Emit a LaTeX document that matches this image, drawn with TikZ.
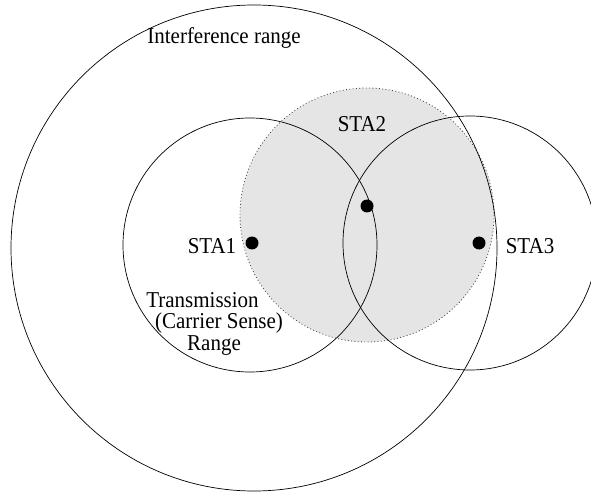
\documentclass[tikz,border=0pt]{standalone}
\usepackage{fontspec}
\setmainfont{Liberation Serif}
\begin{document}
\begin{tikzpicture}[x=1pt,y=-1pt,
  rangering/.style={draw=black,line width=0.7pt},
  sensearea/.style={fill=black!10,draw=black!75,line width=0.8pt,dash pattern=on 0.9pt off 2.4pt},
  station/.style={circle,fill=black,inner sep=0pt,minimum size=13pt},
  lbl/.style={font=\fontsize{21}{24}\selectfont,inner sep=0pt,anchor=base,yscale=1.08}]
  \useasboundingbox (0,0) rectangle (591,494);
  % carrier-sense area of STA2
  \path[sensearea] (367,215) circle[radius=127];
  % ranges
  \draw[rangering] (254,248) circle[radius=243];
  \draw[rangering] (250,245) circle[radius=127];
  \draw[rangering] (470,243) circle[radius=127];
  % stations
  \node[station] (s1) at (252,243) {};
  \node[station] (s2) at (367,206) {};
  \node[station] (s3) at (479,243) {};
  % labels
  \node[lbl] (l1) at (212,253) {STA1};
  \node[lbl] (l2) at (362,132) {STA2};
  \node[lbl] (l3) at (530,253) {STA3};
  \node[lbl] (li) at (224,44) {Interference range};
  \node[lbl] (t1) at (202.5,307) {Transmission};
  \node[lbl] (t2) at (219,328) {(Carrier Sense)};
  \node[lbl] (t3) at (214,350) {Range};
\end{tikzpicture}
\end{document}
